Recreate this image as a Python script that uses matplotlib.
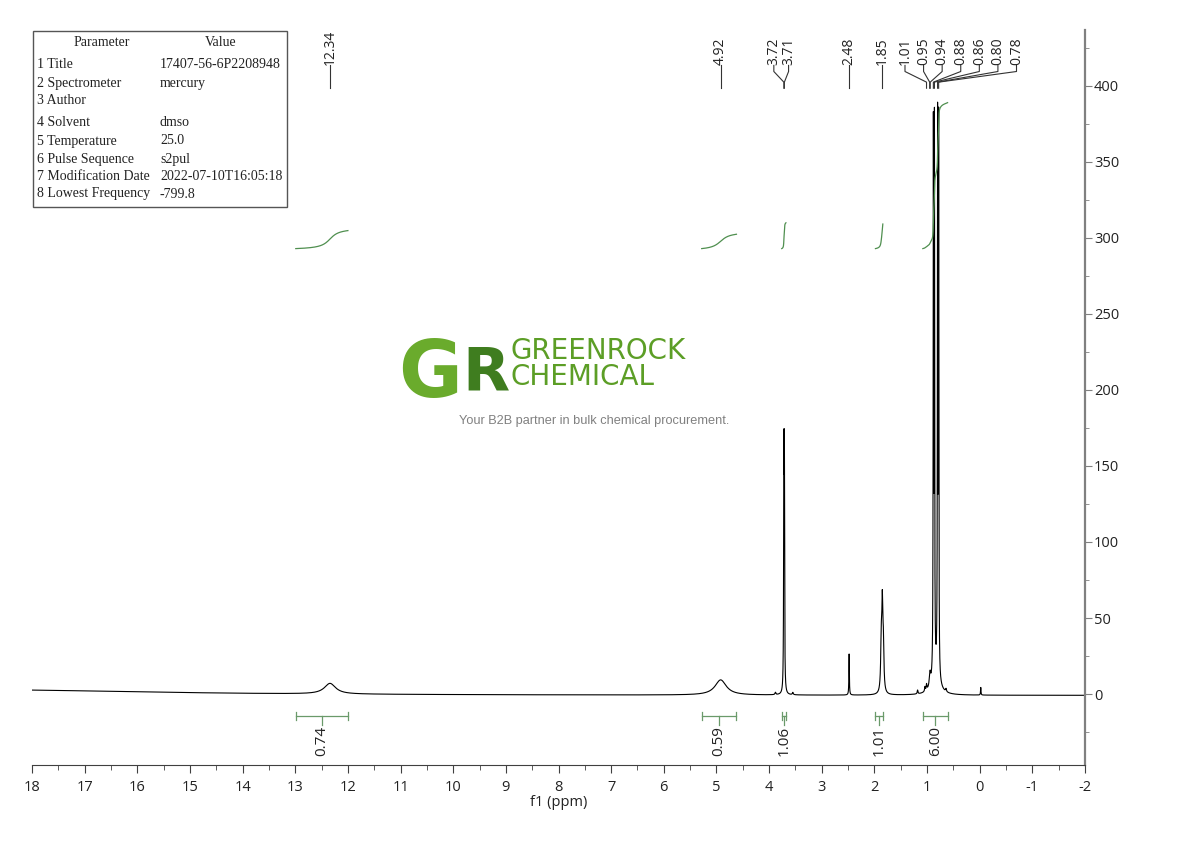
import matplotlib
matplotlib.use('Agg')
import matplotlib.pyplot as plt
import numpy as np
from matplotlib.patches import Rectangle
from matplotlib.ticker import MultipleLocator

plt.rcParams['font.family'] = ['Open Sans', 'DejaVu Sans']

# parameter table
param_names = ['Title', 'Spectrometer', 'Author', 'Solvent', 'Temperature',
               'Pulse Sequence', 'Modification Date', 'Lowest Frequency']
param_values = ['17407-56-6P2208948', 'mercury', '', 'dmso', '25.0',
                's2pul', '2022-07-10T16:05:18', '-799.8']

# peaks: position (ppm), height, half width (ppm)
peak_ppm    = [12.34, 4.92, 3.88, 3.72, 3.71, 3.55, 2.48, 1.87, 1.85, 1.83,
               1.18, 1.04, 1.01, 0.95, 0.94, 0.88, 0.86, 0.84, 0.80, 0.78,
               0.64, -0.02]
peak_height = [7.0, 10.0, 1.5, 145, 145, 1.5, 27, 30, 54, 28,
               2.5, 3.0, 4.0, 5.0, 5.0, 355, 355, 12, 360, 360,
               2.0, 5.0]
peak_hwhm   = [0.13, 0.13, 0.01, 0.005, 0.005, 0.01, 0.005, 0.012, 0.012, 0.012,
               0.008, 0.008, 0.008, 0.012, 0.012, 0.0045, 0.0045, 0.08, 0.0045, 0.0045,
               0.01, 0.005]
# slow baseline drift (broad hump off the left edge) and offset
drift_ppm, drift_height, drift_hwhm = 19.0, 3.8, 4.0
baseline_offset = -1.0

# peak labels on top (groups sharing a connector)
shift_groups = [[12.34], [4.92], [3.72, 3.71], [2.48], [1.85],
                [1.01, 0.95, 0.94, 0.88, 0.86, 0.80, 0.78]]
group_center = [12.34, 4.92, 3.77, 2.48, 1.85, 0.36]
group_step = [0, 0, 0.28, 0, 0, 0.353]

# integrals
int_from = [12.99, 5.28, 3.76, 1.98, 1.08]
int_to = [12.00, 4.62, 3.68, 1.84, 0.61]
int_value = [0.74, 0.59, 1.06, 1.01, 6.00]

W, H = 1190, 841
def fx(x): return x / W
def fy(y): return 1 - y / H

ppm = np.linspace(18, -2, 200001)
peaks_only = np.zeros_like(ppm)
for p, h, w in zip(peak_ppm, peak_height, peak_hwhm):
    peaks_only += h / (1 + ((ppm - p) / w) ** 2)
spec = peaks_only + baseline_offset + drift_height / (1 + ((ppm - drift_ppm) / drift_hwhm) ** 2)

fig = plt.figure(figsize=(11.9, 8.41), dpi=100)
ax = fig.add_axes([fx(32), fy(765), fx(1085 - 32), (765 - 30) / H])
ax.plot(ppm, spec, color='black', lw=0.8)
ax.set_xlim(18, -2)
ax.set_ylim(-46.7, 436.8)

for s in ['left', 'top']:
    ax.spines[s].set_visible(False)
ax.spines['right'].set_color('#808080')
ax.spines['right'].set_linewidth(1.6)
ax.spines['bottom'].set_color('#404040')
ax.yaxis.tick_right()
ax.xaxis.set_minor_locator(MultipleLocator(0.5))
ax.yaxis.set_minor_locator(MultipleLocator(25))
ax.set_yticks(np.arange(0, 401, 50))
ax.tick_params(axis='x', which='major', direction='out', length=6, color='#404040',
               labelsize=10.5, pad=5, labelcolor='#222222')
ax.tick_params(axis='x', which='minor', direction='out', length=3.5, color='#404040')
ax.tick_params(axis='y', which='major', direction='out', length=5, color='#808080',
               labelsize=10.5, pad=1.5, labelcolor='#222222')
ax.tick_params(axis='y', which='minor', direction='out', length=3, color='#808080')
ax.set_xticks(np.arange(18, -2.5, -1))
ax.set_xticklabels([str(int(v)) for v in np.arange(18, -2.5, -1)])
ax.set_xlabel('f1 (ppm)', fontsize=10.5, labelpad=0, color='#222222')

# peak labels with connectors
y_text, y_b, y_c, y_d = 414, 409.5, 402.5, 398.5
for grp, c, st in zip(shift_groups, group_center, group_step):
    n = len(grp)
    for i, p in enumerate(grp):
        lx = c + st * ((n - 1) / 2 - i)
        ax.text(lx, y_text, f'{p:.2f}', rotation=90, ha='center', va='bottom',
                fontsize=10, color='#222222')
        ax.plot([lx, lx, p, p], [y_text - 0.5, y_b, y_c, y_d], color='#333333', lw=0.8)

# integral curves and brackets
int_green = '#4f8f4f'
dppm = ppm[0] - ppm[1]
for a, b, v in zip(int_from, int_to, int_value):
    m = (ppm <= a) & (ppm >= b)
    cum = np.cumsum(peaks_only[m]) * dppm
    ax.plot(ppm[m], 293 + cum / cum[-1] * v * 16, color=int_green, lw=0.9)
    mid = (a + b) / 2
    ax.plot([a, b], [-14.5, -14.5], color='#6a9a6a', lw=0.9)
    ax.plot([a, a], [-12, -17], color='#6a9a6a', lw=0.9)
    ax.plot([b, b], [-12, -17], color='#6a9a6a', lw=0.9)
    ax.plot([mid, mid], [-14.5, -20.5], color='#6a9a6a', lw=0.9)
    ax.text(mid, -21, f'{v:.2f}', rotation=90, ha='center', va='top',
            fontsize=11, color='#222222')

# parameter table
fig.add_artist(Rectangle((fx(33), fy(207)), fx(287 - 33), (207 - 31) / H,
                         transform=fig.transFigure, fill=False, edgecolor='#555555', lw=1))
tfont = dict(family='Liberation Serif', fontsize=10, color='#222222', va='center')
fig.text(fx(102), fy(43), 'Parameter', ha='center', **tfont)
fig.text(fx(221), fy(43), 'Value', ha='center', **tfont)
row_y = [65, 83, 101, 123, 141, 159, 177, 194]
for i, (nm, val) in enumerate(zip(param_names, param_values)):
    fig.text(fx(37), fy(row_y[i]), f'{i + 1} {nm}', ha='left', **tfont)
    fig.text(fx(160), fy(row_y[i]), val, ha='left', **tfont)

# watermark logo
fig.text(fx(462), fy(397), 'G', fontsize=56, fontweight='bold', color='#6aab2c',
         ha='right', va='baseline', family='DejaVu Sans')
fig.text(fx(462), fy(390), 'R', fontsize=44, fontweight='bold', color='#3f7d1f',
         ha='left', va='baseline', family='DejaVu Sans')
fig.text(fx(510), fy(364), 'GREENROCK\nCHEMICAL', fontsize=20, color='#5c9e26',
         ha='left', va='center', family='DejaVu Sans', linespacing=0.95)
fig.text(fx(594), fy(421), 'Your B2B partner in bulk chemical procurement.',
         fontsize=9.2, color='#808080', ha='center', va='center', family='Liberation Sans')

fig.savefig('out.png', dpi=100)
